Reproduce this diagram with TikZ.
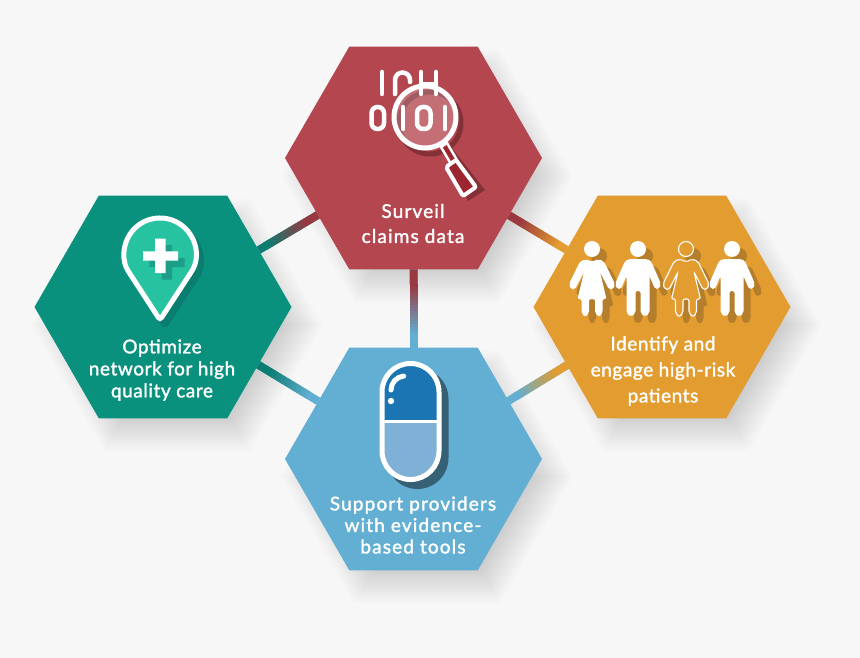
\documentclass[tikz,border=0pt]{standalone}
\usepackage{fontspec}
\setmainfont{Lato}
\usetikzlibrary{calc,shapes.geometric}
\pgfdeclarelayer{shadowlayer}
\pgfdeclarelayer{linklayer}
\pgfsetlayers{shadowlayer,linklayer,main}
\definecolor{redhex}{HTML}{B4464F}
\definecolor{reddark}{HTML}{9A3841}
\definecolor{redgrip}{HTML}{9C2630}
\definecolor{tealhex}{HTML}{09917E}
\definecolor{tealdark}{HTML}{0B7C70}
\definecolor{tealplus}{HTML}{1D9E88}
\definecolor{pinfill}{HTML}{27C3A0}
\definecolor{orangehex}{HTML}{E29C2F}
\definecolor{orangedark}{HTML}{B57E2C}
\definecolor{bluehex}{HTML}{62AFD3}
\definecolor{bluedark}{HTML}{1A75B2}
\definecolor{bluelight}{HTML}{7FB0D6}
\definecolor{page}{HTML}{F7F7F7}
\tikzset{
  hexnode/.style={regular polygon,regular polygon sides=6,minimum size=257pt,inner sep=0pt,outer sep=0pt},
  hexlabel/.style n args={2}{text=white,align=center,inner sep=0pt,font=\fontsize{19}{#1}\selectfont\addfontfeatures{LetterSpace=#2,FakeBold=1.6}},
  linkbar/.style={line width=8pt},
  glyph/.style={draw=white,line width=4.5pt,line cap=round}
}
\newcommand{\hexlink}[4]{%
  \begin{pgfonlayer}{linklayer}
    \draw[linkbar,#4] (#1) -- (#2);
    \draw[linkbar,#3] (#1) -- ($(#1)!.42!(#2)$);
    \foreach \p in {0,...,16} {
      \pgfmathsetmacro{\ta}{.42+.01*\p}
      \pgfmathsetmacro{\tb}{.42+.01*\p+.012}
      \pgfmathsetmacro{\mixv}{100-\p*100/16}
      \draw[linkbar,color=#3!\mixv!#4] ($(#1)!\ta!(#2)$) -- ($(#1)!\tb!(#2)$);
    }
  \end{pgfonlayer}}
\newcommand{\womanpath}{(-6,10) -- (0,13) -- (6,10) -- (12,12.5) -- (23,35) -- (21,40.5) -- (17,40.5) -- (8,23) -- (14.5,50) -- (10.5,50) -- (10.5,64) -- (7,68) -- (3,64) -- (3,50) -- (-3,50) -- (-3,64) -- (-7,68) -- (-10.5,64) -- (-10.5,50) -- (-14.5,50) -- (-8,23) -- (-17,40.5) -- (-21,40.5) -- (-23,35) -- (-12,12.5) -- cycle}
\newcommand{\manpath}{(-9,10) -- (9,10) -- (13,12) -- (23,35) -- (21,40) -- (17,40) -- (11.5,27) -- (11.5,64) -- (7,68) -- (2.5,64) -- (2.5,42) -- (-2.5,42) -- (-2.5,64) -- (-7,68) -- (-11.5,64) -- (-11.5,27) -- (-17,40) -- (-21,40) -- (-23,35) -- (-13,12) -- cycle}
\newcommand{\pinpath}{(160,320) -- (190.2,273.6) arc[start angle=33,end angle=-213,radius=36] -- cycle}
\newcommand{\pillpath}{(382,392) arc[start angle=180,end angle=360,radius=28.5] -- (439,451) arc[start angle=0,end angle=180,radius=28.5] -- cycle}
\begin{document}
\begin{tikzpicture}[x=1pt,y=-1pt]
  \useasboundingbox (0,0) rectangle (860,658);

  \begin{pgfonlayer}{shadowlayer}
    \fill[page] (0,0) rectangle (860,658);
    \foreach \cx/\cy in {413/158,163/307,662/307,413/459}
      \foreach \r in {92,94,...,146}
        \fill[black,opacity=.0095,shift={(\cx+14,\cy+18)}]
          (0:\r) -- (60:\r) -- (120:\r) -- (180:\r) -- (240:\r) -- (300:\r) -- cycle;
  \end{pgfonlayer}

  % hexagons
  \node[hexnode,fill=redhex] (surveil) at (413.5,158) {};
  \node[hexnode,fill=tealhex] (optimize) at (163,307) {};
  \node[hexnode,fill=orangehex] (identify) at (662,307) {};
  \node[hexnode,fill=bluehex] (support) at (413.5,459) {};

  \hexlink{surveil}{optimize}{reddark}{tealdark}
  \hexlink{surveil}{identify}{reddark}{orangehex}
  \hexlink{surveil}{support}{reddark}{bluehex}
  \hexlink{optimize}{support}{tealdark}{bluehex}
  \hexlink{identify}{support}{orangehex}{bluehex}

  % labels
  \node[hexlabel={25}{6}] (surveil text) at (413,223.5) {Surveil\\claims data};
  \node[hexlabel={22}{3}] (optimize text) at (162,370) {Optimize\\network for high\\quality care};
  \node[hexlabel={26}{3}] (identify text) at (663,371) {Identify and\\engage high-risk\\patients};
  \node[hexlabel={21.5}{6}] (support text) at (413,525) {Support providers\\with evidence-\\based tools};

  % magnifier
  \draw[reddark!85!black,line width=5pt] (430,123) circle[radius=31];
  \draw[glyph] (382,72) -- (382,94);
  \draw[glyph] (395,94) -- (395,80) arc[start angle=180,end angle=360,radius=7.5] -- (410,82);
  \draw[glyph] (421,72) -- (421,94) (436,72) -- (436,94) (421,84) -- (436,84);
  \draw[glyph,rounded corners=6pt] (371.5,107) rectangle (384,129);
  \draw[glyph] (403,107) -- (403,129);
  \draw[glyph,rounded corners=6pt] (417,107) rectangle (430.5,129);
  \draw[glyph] (445,107) -- (445,129);
  \fill[white,opacity=.22] (425,117) circle[radius=31];
  \draw[white,line width=5pt] (425,117) circle[radius=31];
  \fill[reddark!85!black] (444,152) -- (451,147) -- (485,190) -- (468,201) -- cycle;
  \draw[white,fill=redgrip,line width=2.5pt] (441,147) -- (447,143) -- (457,160) -- (451,164) -- cycle;
  \draw[white,fill=redgrip,line width=4pt,rounded corners=2pt] (446,167) -- (456,160) -- (476,187) -- (463,196) -- cycle;

  % pin
  \draw[tealdark,fill=tealdark,line width=5pt,shift={(5,6)},rounded corners=3pt] \pinpath;
  \draw[white,fill=pinfill,line width=5pt,rounded corners=3pt] \pinpath;
  \fill[tealplus,shift={(6.5,6.5)}] (155,238.7) rectangle (165.5,273) (143,251.3) rectangle (178,260.7);
  \fill[white] (155,238.7) rectangle (165.5,273) (143,251.3) rectangle (178,260.7);

  % people
  \foreach \px in {592,686} {
    \fill[orangedark,shift={(\px+7,256)},rounded corners=2pt] \womanpath;
    \fill[orangedark] (\px+7,256) circle[radius=8];
  }
  \foreach \px in {638,732} {
    \fill[orangedark,shift={(\px+7,256)},rounded corners=2pt] \manpath;
    \fill[orangedark] (\px+7,256) circle[radius=8];
  }
  \fill[white,shift={(592,249)},rounded corners=2pt] \womanpath;
  \fill[white] (592,249) circle[radius=8];
  \fill[white,shift={(638,249)},rounded corners=2pt] \manpath;
  \fill[white] (638,249) circle[radius=8];
  \fill[white,shift={(732,249)},rounded corners=2pt] \manpath;
  \fill[white] (732,249) circle[radius=8];
  \draw[white,fill=orangehex,line width=1.1pt,shift={(686,249)},rounded corners=2pt] \womanpath;
  \draw[white,fill=orangehex,line width=1.1pt] (686,249) circle[radius=7.5];

  % pill
  \fill[black!45!bluehex,shift={(7,7)}] (379.5,392) arc[start angle=180,end angle=360,radius=31] -- (441.5,451) arc[start angle=0,end angle=180,radius=31] -- cycle;
  \fill[bluedark] (382,392) arc[start angle=180,end angle=360,radius=28.5] -- (439,421.5) -- (382,421.5) -- cycle;
  \fill[bluelight] (382,421.5) -- (439,421.5) -- (439,451) arc[start angle=0,end angle=180,radius=28.5] -- cycle;
  \draw[white,line width=5pt] \pillpath;
  \draw[white,line width=2.2pt] (382,421.5) -- (439,421.5);
  \draw[white,line width=5pt,line cap=round] (391,390) arc[start angle=180,end angle=265,radius=14];
  \fill[white] (391,401) circle[radius=3.2];
\end{tikzpicture}
\end{document}
